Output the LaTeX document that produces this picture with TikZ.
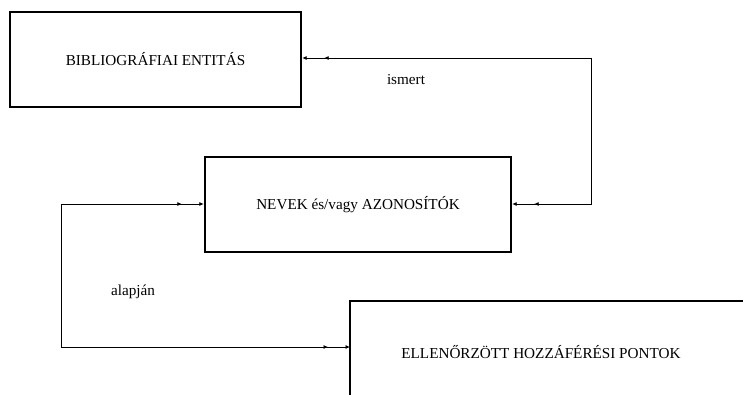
\documentclass[tikz,border=0pt]{standalone}
\usepackage{fontspec}
\setmainfont{Liberation Serif}
\usetikzlibrary{arrows.meta,decorations.markings}
\begin{document}
\begin{tikzpicture}[x=1pt,y=-1pt,
  box/.style={draw=black,line width=2.4pt,inner sep=0pt,font=\fontsize{15.2}{18}\selectfont},
  lbl/.style={font=\fontsize{15.2}{18}\selectfont,inner sep=0pt},
  conn/.style={line width=0.8pt,-{Latex[length=4.5pt,width=4pt]},
    postaction={decorate},
    decoration={markings,mark=at position -22pt with {\arrow{Latex[length=4.5pt,width=4pt]}}}}]
\useasboundingbox (0,0) rectangle (743,395);
\node[box,minimum width=291pt,minimum height=95pt] (b1) at (155.5,59.5) {BIBLIOGRÁFIAI ENTITÁS};
\node[box,minimum width=306pt,minimum height=95pt] (b2) at (358,204.5) {NEVEK és/vagy AZONOSÍTÓK};
\begin{scope}
\clip (0,0) rectangle (743,395);
\draw[line width=2.4pt] (350,301) rectangle (800,450);
\end{scope}
\node[lbl] (b3) at (541,352) {ELLENŐRZÖTT HOZZÁFÉRÉSI PONTOK};
\coordinate (b3w) at (350,347);
\coordinate (r1) at (591,58);
\coordinate (r2) at (591,204);
\coordinate (l1) at (61,204);
\coordinate (l2) at (61,347);
\draw[conn] (r1) -- (b1.east |- r1);
\draw[conn] (r1) -- (r2) -- (b2.east |- r2);
\draw[conn] (l2) -- (l1) -- (b2.west |- l1);
\draw[conn] (l1) -- (l2) -- (b3w);
\node[lbl] (t1) at (406,80) {ismert};
\node[lbl] (t2) at (133,292) {alapján};
\end{tikzpicture}
\end{document}
